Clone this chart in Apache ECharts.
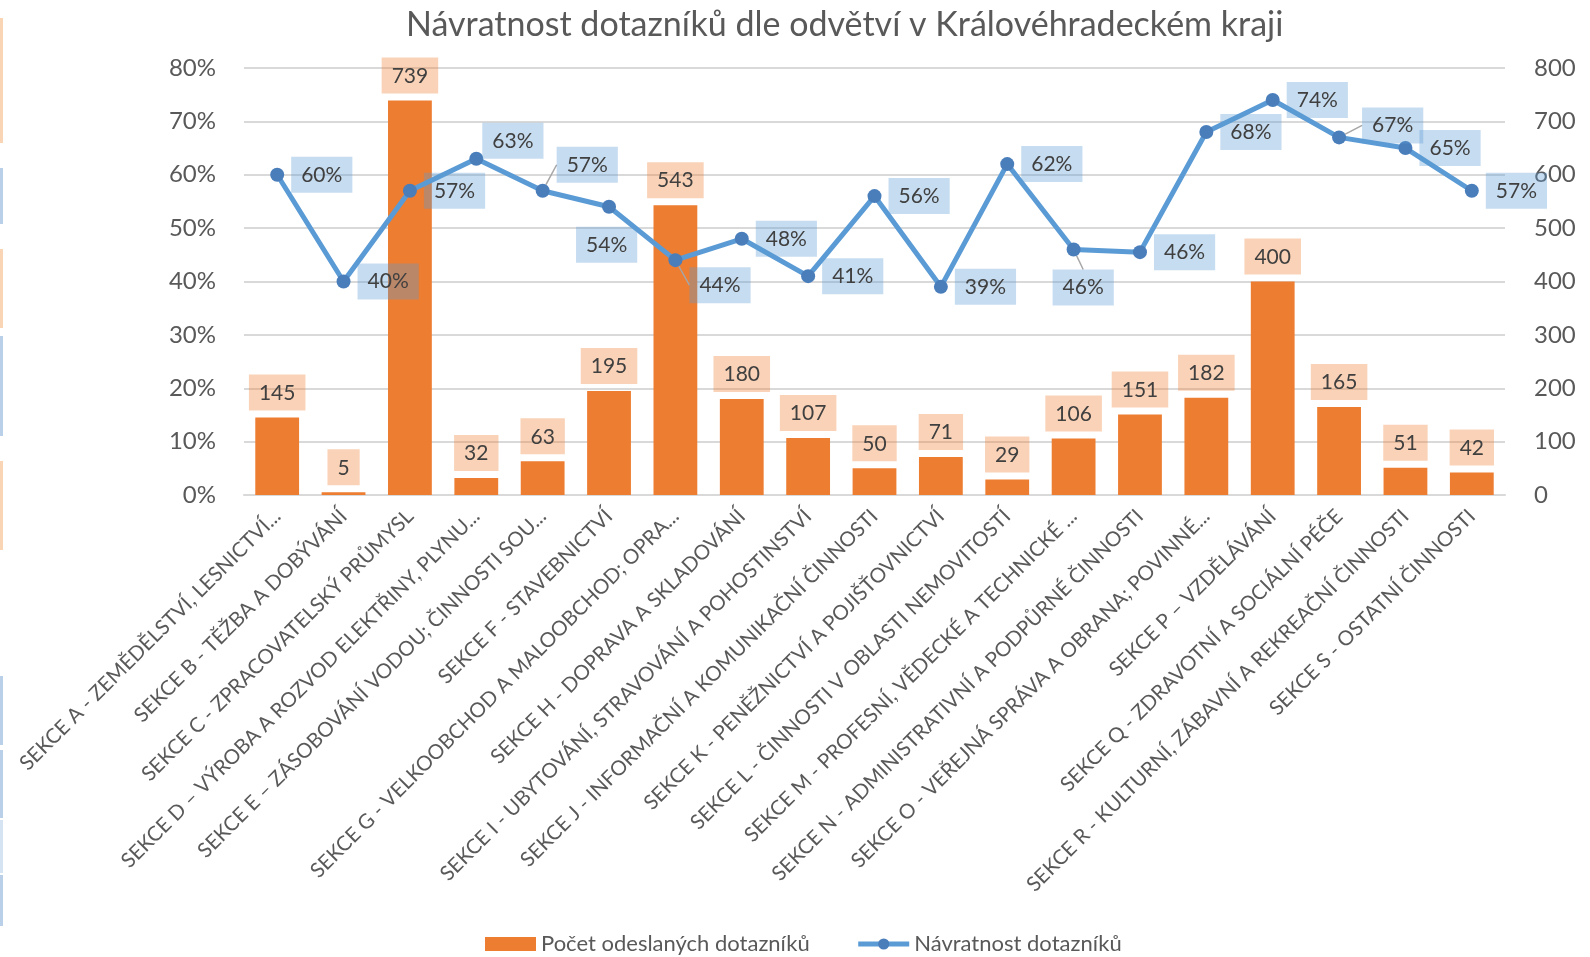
<!DOCTYPE html>
<html lang="cs">
<head>
    <meta charset="UTF-8">
    <title>Návratnost dotazníků</title>
    <style>
        html, body { margin: 0; padding: 0; background: #fff; }
        #main { width: 1590px; height: 957px; }
    </style>
</head>
<body>
<div id="main"></div>
<script src="https://cdn.jsdelivr.net/npm/echarts@6/dist/echarts.min.js"></script>
<script>
    // odvětví
    var sekce = [
        'SEKCE A - ZEMĚDĚLSTVÍ, LESNICTVÍ...',
        'SEKCE B - TĚŽBA A DOBÝVÁNÍ',
        'SEKCE C - ZPRACOVATELSKÝ PRŮMYSL',
        'SEKCE D – VÝROBA A ROZVOD ELEKTŘINY, PLYNU...',
        'SEKCE E – ZÁSOBOVÁNÍ VODOU; ČINNOSTI SOU...',
        'SEKCE F - STAVEBNICTVÍ',
        'SEKCE G - VELKOOBCHOD A MALOOBCHOD; OPRA...',
        'SEKCE H - DOPRAVA A SKLADOVÁNÍ',
        'SEKCE I - UBYTOVÁNÍ, STRAVOVÁNÍ A POHOSTINSTVÍ',
        'SEKCE J - INFORMAČNÍ A KOMUNIKAČNÍ ČINNOSTI',
        'SEKCE K - PENĚŽNICTVÍ A POJIŠŤOVNICTVÍ',
        'SEKCE L - ČINNOSTI V OBLASTI NEMOVITOSTÍ',
        'SEKCE M - PROFESNÍ, VĚDECKÉ A TECHNICKÉ ...',
        'SEKCE N - ADMINISTRATIVNÍ A PODPŮRNÉ ČINNOSTI',
        'SEKCE O - VEŘEJNÁ SPRÁVA A OBRANA; POVINNÉ...',
        'SEKCE P – VZDĚLÁVÁNÍ',
        'SEKCE Q - ZDRAVOTNÍ A SOCIÁLNÍ PÉČE',
        'SEKCE R - KULTURNÍ, ZÁBAVNÍ A REKREAČNÍ ČINNOSTI',
        'SEKCE S - OSTATNÍ ČINNOSTI'
    ];
    // počet odeslaných dotazníků
    var odeslano = [145, 5, 739, 32, 63, 195, 543, 180, 107, 50, 71, 29, 106, 151, 182, 400, 165, 51, 42];
    // návratnost (podíl)
    var navratnost = [0.60, 0.40, 0.57, 0.63, 0.57, 0.54, 0.44, 0.48, 0.41, 0.56, 0.39, 0.62, 0.46, 0.455, 0.68, 0.74, 0.67, 0.65, 0.57];
    // popisky os
    var procentaTicks = ['0%', '10%', '20%', '30%', '40%', '50%', '60%', '70%', '80%'];
    var pocetTicks = ['0', '100', '200', '300', '400', '500', '600', '700', '800'];

    var FONT = 'Lato';
    var orange = '#ED7D31';
    var blue = '#5B9BD5';

    // posunuté popisky (jako v Excelu) - index: [dx, dy]
    var posun = {3: [-8, -18], 4: [0, -26], 5: [-47, 38], 6: [0, 25], 12: [-35, 38], 16: [9, -12]};
    var sVoditkem = {4: 1, 6: 1, 12: 1, 16: 1};

    var lineData = navratnost.map(function (v, i) {
        var item = {value: v};
        if (sVoditkem[i]) item.labelLine = {show: true};
        return item;
    });

    // proužky u levého okraje
    var strips = [
        [18, 143, '#FAD5B5'], [168, 224, '#B9D0E8'], [249, 328, '#FAD5B5'],
        [336, 436, '#B9D0E8'], [461, 550, '#FAD5B5'], [676, 745, '#B9D0E8'],
        [750, 818, '#B9D0E8'], [820, 873, '#D6E3F2'], [875, 926, '#B9D0E8']
    ];

    var chart = echarts.init(document.getElementById('main'));
    chart.setOption({
        animation: false,
        textStyle: {fontFamily: FONT},
        title: {
            text: 'Návratnost dotazníků dle odvětví v Královéhradeckém kraji',
            left: 401,
            top: 3,
            textStyle: {fontFamily: FONT, fontSize: 34, fontWeight: 'normal', color: '#595959'}
        },
        graphic: strips.map(function (s) {
            return {type: 'rect', shape: {x: 0, y: s[0], width: 3, height: s[1] - s[0]}, style: {fill: s[2]}};
        }),
        legend: {
            left: 480,
            top: 928,
            itemWidth: 51,
            itemHeight: 14,
            itemGap: 46,
            textStyle: {fontFamily: FONT, fontSize: 22, color: '#595959'},
            data: [
                {name: 'Počet odeslaných dotazníků', icon: 'rect'},
                {name: 'Návratnost dotazníků', lineStyle: {width: 5}}
            ]
        },
        grid: {left: 244, right: 85, top: 68, bottom: 462},
        xAxis: {
            type: 'category',
            data: sekce,
            axisTick: {show: false},
            axisLine: {lineStyle: {color: '#D9D9D9', width: 2}},
            axisLabel: {interval: 0, rotate: 45, fontSize: 20.5, color: '#595959', margin: 18, fontFamily: FONT}
        },
        yAxis: [
            {
                type: 'value', min: 0, max: 0.8, interval: 0.1,
                axisLabel: {
                    fontSize: 24, color: '#595959', margin: 28, fontFamily: FONT,
                    formatter: function (v) { return procentaTicks[Math.round(v * 10)]; }
                },
                splitLine: {lineStyle: {color: '#D9D9D9', width: 2}}
            },
            {
                type: 'value', min: 0, max: 800, interval: 100,
                axisLabel: {
                    fontSize: 24, color: '#595959', margin: 29, fontFamily: FONT,
                    formatter: function (v) { return pocetTicks[Math.round(v / 100)]; }
                },
                splitLine: {show: false}
            }
        ],
        series: [
            {
                name: 'Počet odeslaných dotazníků',
                type: 'bar',
                yAxisIndex: 1,
                data: odeslano,
                barCategoryGap: '34%',
                itemStyle: {color: orange},
                label: {
                    show: true, position: 'top', distance: 7,
                    fontSize: 21, color: '#404040', fontFamily: FONT,
                    backgroundColor: 'rgba(237,125,49,0.35)',
                    padding: [8, 10, 7, 10]
                },
                z: 1
            },
            {
                name: 'Návratnost dotazníků',
                type: 'line',
                yAxisIndex: 0,
                data: lineData,
                symbol: 'circle',
                symbolSize: 14,
                itemStyle: {color: '#4A7EBB'},
                lineStyle: {color: blue, width: 5},
                label: {
                    show: true, position: 'right', distance: 7,
                    fontSize: 21, color: '#404040', fontFamily: FONT,
                    backgroundColor: 'rgba(91,155,213,0.35)',
                    padding: [8, 10, 7, 10],
                    formatter: function (p) { return Math.round(p.value * 100) + '%'; }
                },
                labelLine: {show: false, lineStyle: {color: '#A6A6A6', width: 1.5}},
                labelLayout: function (p) {
                    var o = posun[p.dataIndex];
                    return o ? {dx: o[0], dy: o[1]} : {};
                },
                z: 3
            }
        ]
    });
</script>
</body>
</html>
